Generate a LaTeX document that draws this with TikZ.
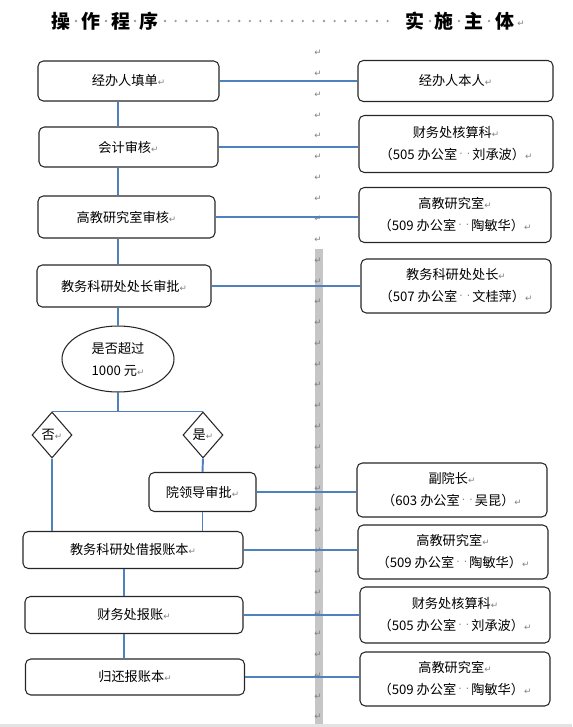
\documentclass[tikz,border=0pt]{standalone}
\usepackage{fontspec}
\setmainfont{Noto Sans CJK SC}
\newfontfamily\symb{DejaVu Sans}
\usetikzlibrary{shapes.geometric}

\definecolor{linkblue}{RGB}{79,129,189}
\definecolor{markgray}{RGB}{128,128,128}
\definecolor{bargray}{RGB}{198,198,198}

\newcommand{\retmark}{{\color{markgray}\symb\fontsize{5}{5}\selectfont ↵}}
\newcommand{\spmark}{{\color{markgray}\symb\fontsize{6}{6}\selectfont\hspace{1.2pt}\raisebox{1.6pt}{·}\hspace{1.2pt}}}
\def\pxu{0.02cm}

\tikzset{
  stepbox/.style 2 args={draw=black!85, line width=0.6pt, rounded corners=3pt,
    align=center, inner sep=0pt, minimum width=#1*\pxu, minimum height=#2*\pxu,
    font=\fontsize{7.5}{12.5}\selectfont},
  askbox/.style={draw=black!85, line width=0.6pt, ellipse, align=center, inner sep=0pt,
    minimum width=112*\pxu, minimum height=66*\pxu, font=\fontsize{7.5}{12.5}\selectfont},
  choice/.style={draw=black!85, line width=0.6pt, diamond, inner sep=0pt,
    minimum width=40*\pxu, minimum height=46*\pxu, font=\fontsize{7.5}{9}\selectfont},
  link/.style={draw=linkblue, line width=1.1pt},
  headchar/.style={inner sep=0pt, font=\fontsize{10.8}{10.8}\selectfont\bfseries},
  retmk/.style={inner sep=0pt, text=markgray, font=\symb\fontsize{5}{5}\selectfont},
}

\begin{document}
\begin{tikzpicture}[x=0.02cm, y=-0.02cm]

\useasboundingbox (0,0) rectangle (572,727);

% middle column
\fill[bargray] (315,249) rectangle (323,727);
\fill[gray!22] (0,724) rectangle (572,727);
\foreach \k in {0,...,32}
  \node[retmk] (ret\k) at (318,{53+20.75*\k}) {↵};

% heading
\foreach \c/\x [count=\i] in {操/61,作/91,程/121,序/149}
  \node[headchar] (hl\i) at (\x,21) {\c};
\foreach \c/\x [count=\i] in {实/415,施/444,主/474,体/505}
  \node[headchar] (hr\i) at (\x,21) {\c};
\node[retmk] (hret) at (521,24) {↵};
\foreach \x in {76,106,135,430,459,489}
  \fill[markgray!80] (\x,21) circle (1.3);
\foreach \k in {0,...,21}
  \fill[markgray!80] ({165+10.6*\k},21) circle (1.3);

% procedure (left)
\node[stepbox={181}{40}] (B1) at (128.5,81) {经办人填单\retmark};
\node[stepbox={179}{40}] (B2) at (128.5,147) {会计审核\retmark};
\node[stepbox={177}{42}] (B3) at (126.5,217) {高教研究室审核\retmark};
\node[stepbox={174}{42}] (B4) at (124,286) {教务科研处处长审批\retmark};
\node[askbox] (E) at (118,359) {是否超过\\1000 元\retmark};
\node[choice] (D1) at (52,435) {否\retmark};
\node[choice] (D2) at (203,435) {是\retmark};
\node[stepbox={107}{39}] (B5) at (202.5,492) {院领导审批\retmark};
\node[stepbox={220}{37}] (B6) at (133,550) {教务科研处借报账本\retmark};
\node[stepbox={218}{37}] (B7) at (134,615) {财务处报账\retmark};
\node[stepbox={219}{36}] (B8) at (135,677) {归还报账本\retmark};

% executors (right)
\node[stepbox={195}{41}] (R1) at (455.5,81) {经办人本人\retmark};
\node[stepbox={194}{57}] (R2) at (456,144) {财务处核算科\retmark\\（505 办公室\spmark\spmark 刘承波）\retmark};
\node[stepbox={192}{55}] (R3) at (455,215) {高教研究室\retmark\\（509 办公室\spmark\spmark 陶敏华）\retmark};
\node[stepbox={190}{54}] (R4) at (456,286) {教务科研处处长\retmark\\（507 办公室\spmark\spmark 文桂萍）\retmark};
\node[stepbox={190}{54}] (R5) at (452,490) {副院长\retmark\\（603 办公室\spmark\spmark 吴昆）\retmark};
\node[stepbox={190}{54}] (R6) at (453,552) {高教研究室\retmark\\（509 办公室\spmark\spmark 陶敏华）\retmark};
\node[stepbox={190}{56}] (R7) at (455,615) {财务处核算科\retmark\\（505 办公室\spmark\spmark 刘承波）\retmark};
\node[stepbox={190}{54}] (R8) at (455,679) {高教研究室\retmark\\（509 办公室\spmark\spmark 陶敏华）\retmark};

\coordinate (spine) at (124,0);

% flow
\draw[link] (B1.south -| E) -- (B2.north -| E);
\draw[link] (B2.south -| E) -- (B3.north -| E);
\draw[link] (B3.south -| E) -- (B4.north -| E);
\draw[link] (B4.south -| E) -- (E.north);
\draw[link] (E.south) -- (E.south |- D1.north);
\draw[link] (D1.north) -- (D2.north);
\draw[link] (D1.south) -- (D1.south |- B6.north);
\draw[link] (D2.south) -- (B5.north);
\draw[link] (B5.south) -- (B5.south |- B6.north);
\draw[link] (B6.south -| spine) -- (B7.north -| spine);
\draw[link] (B7.south -| spine) -- (B8.north -| spine);

% to executors
\foreach \i in {1,...,8}
  \draw[link] (B\i.east) -- (B\i.east -| R\i.west);

\end{tikzpicture}
\end{document}
